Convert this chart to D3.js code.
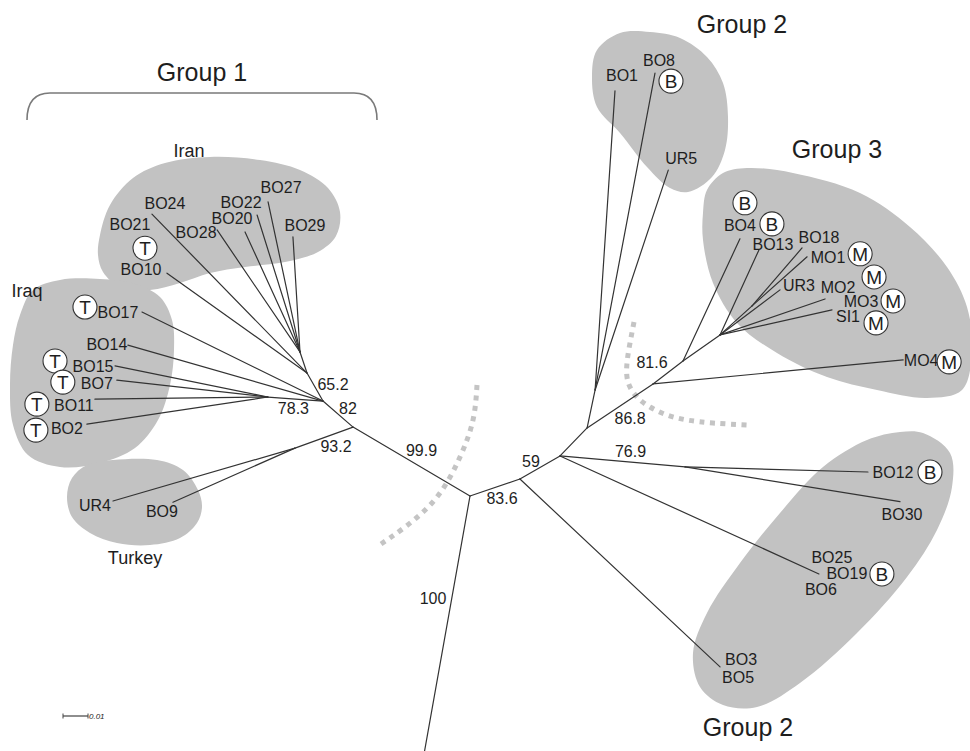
<!DOCTYPE html>
<html>
<head>
<meta charset="utf-8">
<script src="https://cdn.jsdelivr.net/npm/d3@7"></script>
<style>
  html, body { margin: 0; padding: 0; background: #fff; }
  svg { display: block; }
  text { font-family: "Liberation Sans", Arial, Helvetica, sans-serif; fill: #1e1e1e; }
</style>
</head>
<body>
<svg id="chart" width="970" height="751"></svg>
<script>
// ---------------------------------------------------------------
// Unrooted tree: every branch joins a node to its parent, with a
// length (substitutions per site) and a drawing angle (degrees,
// counter-clockwise from east). Parents are listed before children.
// ---------------------------------------------------------------
const nodeIds = ["n_iran_iraq","n_turkey","UR4","BO9","n_82","n_iraq","BO15","BO7","BO11","BO2",
  "BO14","BO17","n_iran","BO10","BO24","n_iran2","BO28","BO20","BO22","BO27","BO29",
  "outgroup","n_836","BO3","n_59","n_769","BO12","BO30","BO19","n_868","n_g2","BO1","BO8","UR5",
  "n_mo4","MO4","n_816","BO4","n_g3","BO13","n_g3b","BO18","MO1","UR3","MO2","SI1"];
const parentIds = ["root","n_iran_iraq","n_turkey","n_turkey","n_iran_iraq","n_82","n_iraq","n_iraq","n_iraq","n_iraq",
  "n_82","n_82","n_82","n_iran","n_iran","n_iran","n_iran2","n_iran2","n_iran2","n_iran2","n_iran2",
  "root","root","n_836","n_836","n_59","n_769","n_769","n_59","n_59","n_868","n_g2","n_g2","n_g2",
  "n_868","n_mo4","n_mo4","n_816","n_816","n_g3","n_g3","n_g3b","n_g3b","n_g3","n_g3","n_g3"];
const branchLengths = [0.0543,0.0247,0.0758,0.0534,0.0159,0.0221,0.0624,0.0608,0.0692,0.0732,
  0.0812,0.0807,0.0129,0.0688,0.0888,0.0089,0.0590,0.0528,0.0574,0.0614,0.0461,
  0.1093,0.0211,0.1098,0.0185,0.0502,0.0732,0.0871,0.1138,0.0156,0.0155,0.1199,0.1290,0.0927,
  0.0317,0.1005,0.0151,0.0539,0.0181,0.0374,0.0173,0.0306,0.0295,0.0300,0.0444,0.0459];
const branchAngles = [149.5,199.9,196.2,203.9,139.1,175.8,168.5,173.6,180.7,188.5,
  164.0,153.8,119.7,144.5,134.3,108.4,124.2,114.6,107.4,102.0,93.5,
  259.9,18.8,-43.2,29.9,-5.0,-1.6,-9.2,-24.5,46.0,78.1,86.2,79.3,71.6,
  33.7,5.5,37.5,65.0,35.1,65.4,42.2,49.2,41.7,36.9,18.9,12.6];

// Isolates and the tip they sit on (identical sequences share a tip)
const taxa = ["BO24","BO21","BO28","BO20","BO22","BO27","BO29","BO10","BO17","BO14","BO15","BO7","BO11","BO2",
  "UR4","BO9","BO1","BO8","UR5","BO4","BO13","BO18","MO1","UR3","MO2","MO3","SI1","MO4",
  "BO12","BO30","BO25","BO19","BO6","BO3","BO5"];
const taxonTips = ["BO24","BO24","BO28","BO20","BO22","BO27","BO29","BO10","BO17","BO14","BO15","BO7","BO11","BO2",
  "UR4","BO9","BO1","BO8","UR5","BO4","BO13","BO18","MO1","UR3","MO2","MO2","SI1","MO4",
  "BO12","BO30","BO19","BO19","BO19","BO3","BO3"];

// Circled host marks
const markerTaxa = ["BO10","BO17","BO15","BO7","BO11","BO2","BO8","BO4","BO13","MO1","MO2","MO3","SI1","MO4","BO12","BO19"];
const markerLetters = ["T","T","T","T","T","T","B","B","B","M","M","M","M","M","B","B"];

// Bootstrap support, attached to the branch leading to the named node
const supportBranches = ["n_iran_iraq","n_turkey","n_82","n_iraq","n_iran","outgroup","n_836","n_59","n_769","n_mo4","n_816"];
const supportValues = [99.9, 93.2, 82, 78.3, 65.2, 100, 83.6, 59, 76.9, 86.8, 81.6];

const groupTitles = ["Group 1", "Group 2", "Group 3", "Group 2"];
const regionNames = ["Iran", "Iraq", "Turkey"];
const scaleBarValue = 0.01;

// ---------------------------------------------------------------
// Layout
// ---------------------------------------------------------------
const W = 970, H = 751;
const pxPerUnit = 2500;
const rootPx = [470, 496];

const x = d3.scaleLinear()
  .domain([-rootPx[0] / pxPerUnit, (W - rootPx[0]) / pxPerUnit]).range([0, W]);
const y = d3.scaleLinear()
  .domain([rootPx[1] / pxPerUnit, -(H - rootPx[1]) / pxPerUnit]).range([0, H]);

// accumulate branch vectors into node positions (tree units)
const pos = new Map([["root", { x: 0, y: 0 }]]);
nodeIds.forEach((id, i) => {
  const p = pos.get(parentIds[i]);
  const a = branchAngles[i] * Math.PI / 180;
  pos.set(id, { x: p.x + branchLengths[i] * Math.cos(a), y: p.y + branchLengths[i] * Math.sin(a) });
});
const px = id => [x(pos.get(id).x), y(pos.get(id).y)];

// label placement relative to the tip end (pixels): [dx, dy]
const labelOffset = {
  BO24:[13,-11], BO21:[-22,10], BO28:[-21,2], BO20:[-13,-14], BO22:[-16,-13], BO27:[13,-14], BO29:[12,-12],
  BO10:[-26,-4], BO17:[-24,0], BO14:[-21,-1], BO15:[-22,0], BO7:[-20,3], BO11:[-21,6], BO2:[-20,4],
  UR4:[-18,4], BO9:[-11,9],
  BO1:[7,-15], BO8:[4,-13], UR5:[13,-12],
  BO4:[0,-13], BO13:[14,-6], BO18:[17,-11], MO1:[21,1], UR3:[19,-4], MO2:[13,-12], MO3:[36,2], SI1:[16,7], MO4:[18,1],
  BO12:[25,0], BO30:[2,13], BO25:[13,-17], BO19:[28,-1], BO6:[2,15], BO3:[21,-8], BO5:[18,10]
};
const markerOffset = {
  BO10:[-22,-25], BO17:[-57,-5], BO15:[-60,-5], BO7:[-54,2], BO11:[-58,5], BO2:[-51,6],
  BO8:[16,8], BO4:[5,-36], BO13:[13,-26], MO1:[53,-3], MO2:[49,-22], MO3:[68,2], SI1:[44,13], MO4:[46,2],
  BO12:[62,0], BO19:[63,0]
};
// support label offset from the branch midpoint
const supportOffset = {
  n_iran_iraq:[10,-11], n_turkey:[12,9], n_82:[10,-6], n_iraq:[-2,9], n_iran:[18,-3], outgroup:[-13,-32],
  n_836:[7,11], n_59:[-9,-6], n_769:[8,-10], n_mo4:[10,12], n_816:[-16,-10]
};

// shaded outlines around clades
const blobs = [
  [[100,235],[110,205],[133,178],[165,163],[210,157],[260,160],[300,170],[328,188],[340,212],[336,236],[318,252],[285,262],[245,267],[210,273],[180,283],[150,290],[120,287],[103,272],[98,255]],
  [[33,290],[60,280],[100,279],[135,284],[160,297],[172,320],[174,350],[170,385],[158,420],[135,448],[100,463],[60,467],[28,455],[13,425],[10,385],[13,345],[20,315]],
  [[67,497],[72,478],[87,465],[113,460],[157,460],[183,470],[198,490],[202,507],[197,523],[180,538],[150,545],[117,543],[90,533],[72,517]],
  [[592,77],[597,50],[620,33],[650,32],[680,38],[707,57],[723,83],[728,117],[725,150],[712,177],[688,192],[670,188],[647,167],[620,133],[597,107]],
  [[707,190],[723,173],[747,168],[793,173],[860,193],[910,227],[947,267],[967,307],[972,350],[962,390],[927,398],[877,390],[827,377],[777,353],[737,323],[713,283],[703,240],[703,213]],
  [[900,432],[923,433],[950,453],[952,487],[937,530],[907,577],[857,633],[800,683],[757,707],[723,705],[700,687],[693,653],[707,613],[740,563],[780,513],[823,467],[867,440]]
];
const arcs = [
  [[477,385],[473,420],[460,457],[437,497],[405,527],[378,546]],
  [[634,322],[630,343],[627,363],[628,382],[637,397],[650,407],[667,415],[687,420],[713,423],[748,425]]
];
const titlePos = [[202,72],[742,24],[837,149],[748,727]];
const regionPos = [[189,151],[27,291],[135,558]];

// ---------------------------------------------------------------
// Drawing
// ---------------------------------------------------------------
const svg = d3.select("#chart");

svg.append("g").selectAll("path").data(blobs).join("path")
  .attr("d", d3.line().curve(d3.curveCatmullRomClosed.alpha(0.5)))
  .attr("fill", "#c2c2c2");

svg.append("path")
  .attr("d", "M27,120 C27,102 34,93 50,93 L354,93 C370,93 377,102 377,120")
  .attr("fill", "none").attr("stroke", "#7a7a7a").attr("stroke-width", 1.6);

svg.append("g").selectAll("path").data(arcs).join("path")
  .attr("d", d3.line().curve(d3.curveNatural))
  .attr("fill", "none").attr("stroke", "#c4c4c4")
  .attr("stroke-width", 5).attr("stroke-dasharray", "5,5.5");

// branches
svg.append("g").selectAll("line").data(nodeIds).join("line")
  .attr("x1", (d, i) => px(parentIds[i])[0]).attr("y1", (d, i) => px(parentIds[i])[1])
  .attr("x2", d => px(d)[0]).attr("y2", d => px(d)[1])
  .attr("stroke", "#333").attr("stroke-width", 1.2).attr("stroke-linecap", "round");

// isolate labels
svg.append("g").selectAll("text").data(taxa).join("text")
  .attr("x", (d, i) => px(taxonTips[i])[0] + labelOffset[d][0])
  .attr("y", (d, i) => px(taxonTips[i])[1] + labelOffset[d][1])
  .attr("dy", "0.35em").attr("text-anchor", "middle").attr("font-size", 16)
  .text(d => d);

// circled marks
const tipOf = t => taxonTips[taxa.indexOf(t)];
const mk = svg.append("g").selectAll("g").data(markerTaxa).join("g")
  .attr("transform", d => {
    const p = px(tipOf(d));
    return `translate(${p[0] + markerOffset[d][0]},${p[1] + markerOffset[d][1]})`;
  });
mk.append("circle").attr("r", 12).attr("fill", "#fff").attr("stroke", "#333").attr("stroke-width", 1.1);
mk.append("text").attr("dy", "0.36em").attr("text-anchor", "middle").attr("font-size", 19)
  .text((d, i) => markerLetters[i]);

// support values
svg.append("g").selectAll("text").data(supportBranches).join("text")
  .attr("x", d => {
    const i = nodeIds.indexOf(d);
    return (px(parentIds[i])[0] + px(d)[0]) / 2 + supportOffset[d][0];
  })
  .attr("y", d => {
    const i = nodeIds.indexOf(d);
    return (px(parentIds[i])[1] + px(d)[1]) / 2 + supportOffset[d][1];
  })
  .attr("dy", "0.35em").attr("text-anchor", "middle").attr("font-size", 16)
  .text((d, i) => String(supportValues[i]));

// group titles and regions
svg.append("g").selectAll("text").data(groupTitles).join("text")
  .attr("x", (d, i) => titlePos[i][0]).attr("y", (d, i) => titlePos[i][1])
  .attr("dy", "0.35em").attr("text-anchor", "middle").attr("font-size", 25).text(d => d);
svg.append("g").selectAll("text").data(regionNames).join("text")
  .attr("x", (d, i) => regionPos[i][0]).attr("y", (d, i) => regionPos[i][1])
  .attr("dy", "0.35em").attr("text-anchor", "middle").attr("font-size", 18).text(d => d);

// scale bar
const sb = svg.append("g").attr("transform", "translate(63,716)");
const sbLen = x(scaleBarValue) - x(0);
sb.append("line").attr("x1", 0).attr("x2", sbLen).attr("stroke", "#444").attr("stroke-width", 1.2);
sb.append("line").attr("x1", 0).attr("x2", 0).attr("y1", -2.5).attr("y2", 2.5).attr("stroke", "#444");
sb.append("line").attr("x1", sbLen).attr("x2", sbLen).attr("y1", -2.5).attr("y2", 2.5).attr("stroke", "#444");
sb.append("text").attr("x", sbLen + 1).attr("dy", "0.35em").attr("font-size", 8)
  .attr("font-style", "italic").text(scaleBarValue.toFixed(2));
</script>
</body>
</html>
